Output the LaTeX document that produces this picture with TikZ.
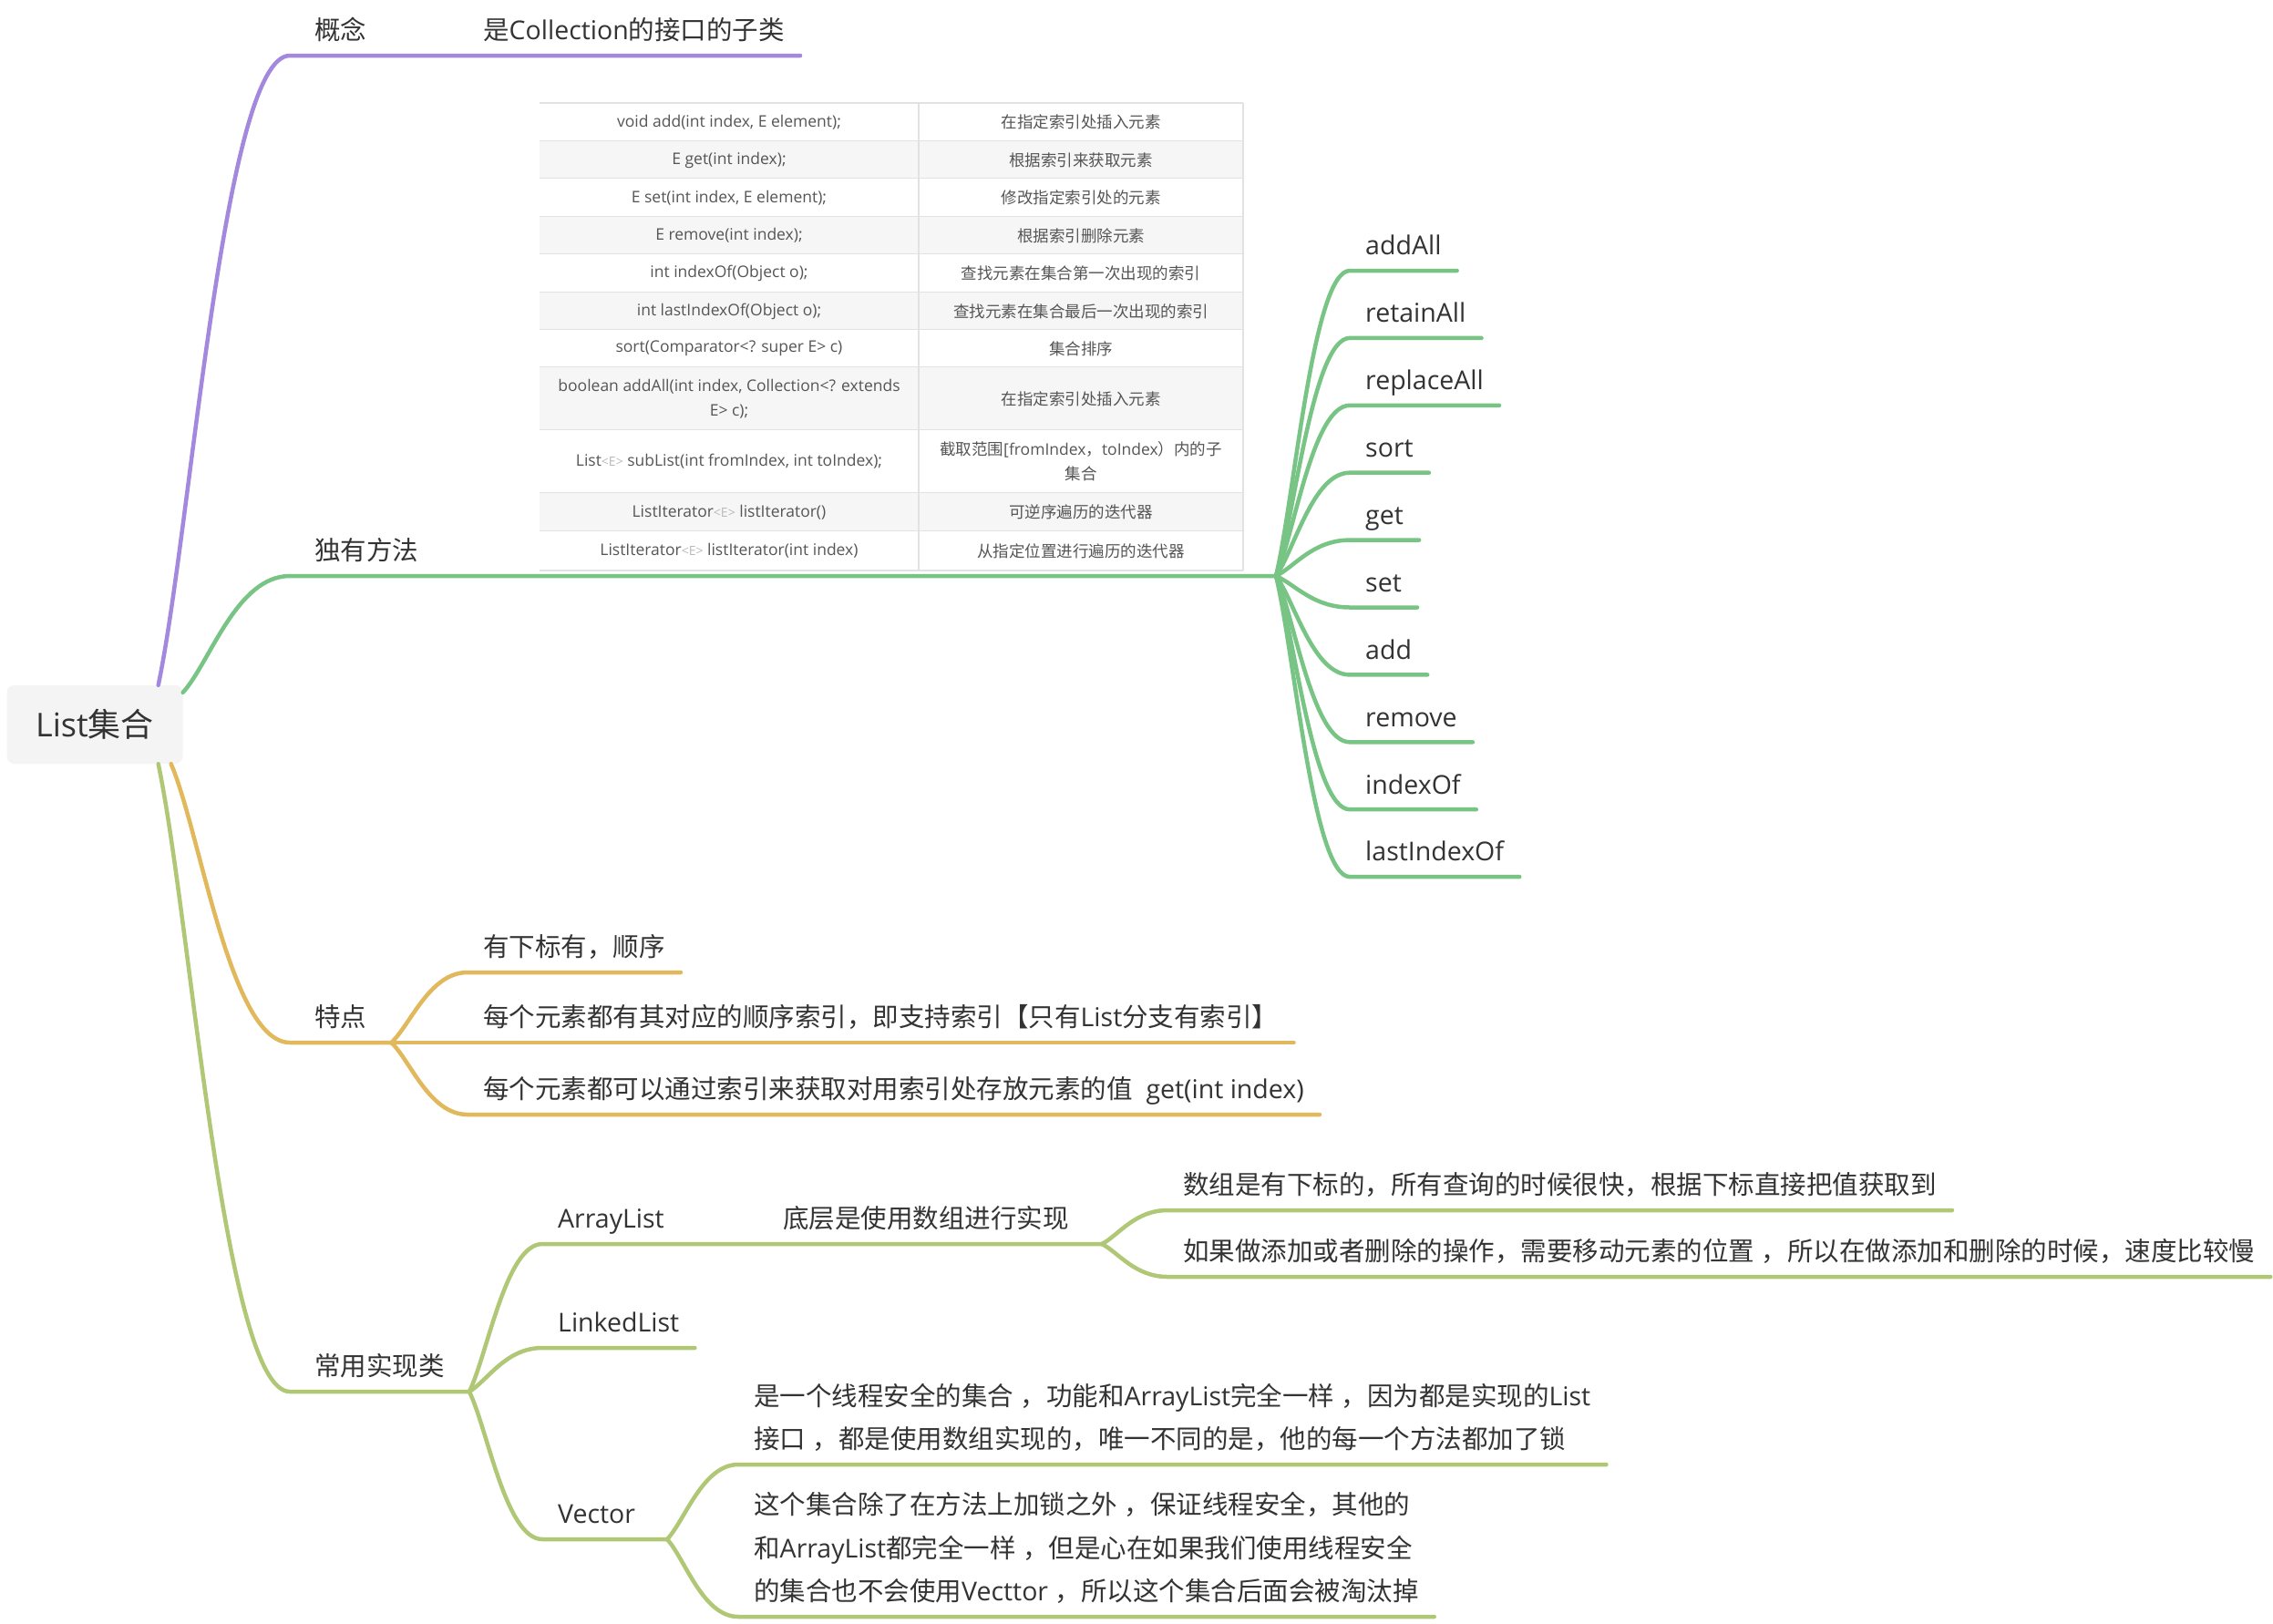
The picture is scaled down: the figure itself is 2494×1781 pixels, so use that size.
\documentclass[tikz,border=0pt]{standalone}
\usepackage{fontspec}
\setmainfont{Open Sans}
\newfontfamily\cjkfont{Noto Sans CJK SC}
\usetikzlibrary{calc}

% Chinese characters switch to the CJK font by themselves
\XeTeXinterchartokenstate=1
\newXeTeXintercharclass\cjkclass
\newcount\cjkcode
\newcommand{\cjkrange}[2]{%
  \cjkcode=#1\relax
  \loop
    \XeTeXcharclass\cjkcode=\cjkclass
  \ifnum\cjkcode<#2\relax
    \advance\cjkcode by 1
  \repeat}
\cjkrange{"3000}{"303F}
\cjkrange{"4E00}{"9FFF}
\cjkrange{"FF00}{"FFEF}
\XeTeXinterchartoks 0 \cjkclass = {\cjkfont}
\XeTeXinterchartoks 4095 \cjkclass = {\cjkfont}
\XeTeXinterchartoks \cjkclass 0 = {\rmfamily}
\XeTeXinterchartoks \cjkclass 4095 = {\rmfamily}

\definecolor{purplebr}{RGB}{164,136,222}
\definecolor{greenbr}{RGB}{120,196,132}
\definecolor{orangebr}{RGB}{225,184,92}
\definecolor{olivebr}{RGB}{176,200,118}
\definecolor{inkgray}{RGB}{51,51,51}
\definecolor{rootfill}{RGB}{244,244,244}
\definecolor{tblgray}{RGB}{246,246,246}
\definecolor{tblline}{RGB}{226,226,226}
\definecolor{tbltext}{RGB}{85,85,85}
\definecolor{tbllight}{RGB}{185,185,185}

\newcommand{\typearg}{{\color{tbllight}\fontsize{14}{14}\selectfont<E>}}

\begin{document}
\begin{tikzpicture}[x=1pt, y=-1pt,
  curvy/.style={to path={.. controls ($(\tikztostart)!0.25!(\tikztotarget)$)
      and ($(\tikztostart |- \tikztotarget)!0.5!(\tikztotarget)$) .. (\tikztotarget) \tikztonodes}},
  branch/.style={draw=#1, line width=4.5pt, line cap=round, line join=round},
  topic/.style={anchor=south west, text depth=0pt, inner xsep=27pt, inner ysep=17pt,
    text=inkgray, font=\fontsize{28.5}{34}\selectfont},
  leaf/.style={topic, inner xsep=17pt},
  note/.style={leaf, font=\fontsize{28.5}{47.5}\selectfont},
  root/.style={fill=rootfill, rounded corners=8pt, minimum width=193pt, minimum height=86pt,
    inner sep=0pt, text=inkgray, font=\fontsize{36}{40}\selectfont},
  cell/.style={text=tbltext, align=center, inner sep=0pt, font=\fontsize{17.5}{27}\selectfont}]

  \useasboundingbox[fill=white] (0,0) rectangle (2494,1781);

  % --- centre ---
  \node[root] (root) at (104,795) {List集合};
  \coordinate (rp) at ($(root.north east)+(-27,0)$);
  \coordinate (rg) at ($(root.north east)+(0,8)$);
  \coordinate (ro) at ($(root.south east)+(-13,0)$);
  \coordinate (rl) at ($(root.south east)+(-27,0)$);

  % --- 概念 ---
  \node[topic] (concept) at (318,61) {概念};
  \node[leaf] (conceptdef) at (513,61) {是Collection的接口的子类};
  \draw[branch=purplebr] (rp) to[curvy] (concept.south west) -- (conceptdef.south east);

  % --- 独有方法 ---
  \node[topic] (own) at (318,632) {独有方法};
  \coordinate (ownhub) at (1400,632);
  \draw[branch=greenbr] (rg) to[curvy] (own.south west) -- (ownhub);

  % table of the methods
  \foreach \ytop/\ybot/\colfill/\mtd/\desc [count=\r] in {
      113/155/white/{void add(int index, E element);}/{在指定索引处插入元素},
      155/196/tblgray/{E get(int index);}/{根据索引来获取元素},
      196/238/white/{E set(int index, E element);}/{修改指定索引处的元素},
      238/279/tblgray/{E remove(int index);}/{根据索引删除元素},
      279/321/white/{int indexOf(Object o);}/{查找元素在集合第一次出现的索引},
      321/362/tblgray/{int lastIndexOf(Object o);}/{查找元素在集合最后一次出现的索引},
      362/403/white/{sort(Comparator<? super E> c)}/{集合排序},
      403/472/tblgray/{boolean addAll(int index, Collection<? extends\\E> c);}/{在指定索引处插入元素},
      472/541/white/{List\typearg{} subList(int fromIndex, int toIndex);}/{截取范围[fromIndex，toIndex）内的子\\集合},
      541/583/tblgray/{ListIterator\typearg{} listIterator()}/{可逆序遍历的迭代器},
      583/626/white/{ListIterator\typearg{} listIterator(int index)}/{从指定位置进行遍历的迭代器}}{
    \fill[\colfill] (592,\ytop) rectangle (1364,\ybot);
    \draw[tblline, line width=1.5pt] (592,\ybot) -- (1364,\ybot);
    \node[cell] (mtd\r) at (800,{(\ytop+\ybot)/2}) {\mtd};
    \node[cell] (desc\r) at (1186,{(\ytop+\ybot)/2}) {\desc};
  }
  \draw[tblline, line width=1.5pt] (592,113) -- (1364,113)
    (1008,113) -- (1008,626) (1364,113) -- (1364,626);

  % methods in the map
  \foreach \word [count=\i from 0] in {addAll, retainAll, replaceAll, sort, get, set, add, remove, indexOf, lastIndexOf}{
    \node[leaf] (own\i) at (1481,{297+73.9*\i}) {\word};
    \draw[branch=greenbr] (ownhub) to[curvy] (own\i.south west) -- (own\i.south east);
  }

  % --- 特点 ---
  \node[topic] (feat) at (318,1144) {特点};
  \draw[branch=orangebr] (ro) to[curvy] (feat.south west) -- (feat.south east);
  \node[leaf] (feat1) at (513,1067) {有下标有，顺序};
  \node[leaf] (feat2) at (513,1144) {每个元素都有其对应的顺序索引，即支持索引【只有List分支有索引】};
  \node[leaf] (feat3) at (513,1223) {每个元素都可以通过索引来获取对用索引处存放元素的值~~get(int index)};
  \foreach \n in {feat1,feat2,feat3}
    \draw[branch=orangebr] (feat.south east) to[curvy] (\n.south west) -- (\n.south east);

  % --- 常用实现类 ---
  \node[topic] (impl) at (318,1527) {常用实现类};
  \draw[branch=olivebr] (rl) to[curvy] (impl.south west) -- (impl.south east);
  \node[leaf] (alist) at (595,1365) {ArrayList};
  \node[leaf] (alistdef) at (842,1365) {底层是使用数组进行实现};
  \coordinate (alisthub) at (1209,1365);
  \node[leaf] (llist) at (595,1479) {LinkedList};
  \node[leaf] (vec) at (595,1689) {Vector};
  \coordinate (vechub) at (732,1689);
  \draw[branch=olivebr] (impl.south east) to[curvy] (alist.south west) -- (alisthub);
  \draw[branch=olivebr] (impl.south east) to[curvy] (llist.south west) -- (llist.south east);
  \draw[branch=olivebr] (impl.south east) to[curvy] (vec.south west) -- (vechub);

  % ArrayList details
  \node[leaf] (alist1) at (1281,1328) {数组是有下标的，所有查询的时候很快，根据下标直接把值获取到};
  \node[leaf] (alist2) at (1281,1401) {如果做添加或者删除的操作，需要移动元素的位置 ，所以在做添加和删除的时候，速度比较慢};
  \foreach \n in {alist1,alist2}
    \draw[branch=olivebr] (alisthub) to[curvy] (\n.south west) -- (\n.south east);

  % Vector details
  \node[note] (vec1) at (810,1607) {\vbox{%
    \hbox{是一个线程安全的集合 ，功能和ArrayList完全一样 ，因为都是实现的List}%
    \hbox{接口 ，都是使用数组实现的，唯一不同的是，他的每一个方法都加了锁}}};
  \node[note] (vec2) at (810,1774) {\vbox{%
    \hbox{这个集合除了在方法上加锁之外 ，保证线程安全，其他的}%
    \hbox{和ArrayList都完全一样 ，但是心在如果我们使用线程安全}%
    \hbox{的集合也不会使用Vecttor ，所以这个集合后面会被淘汰掉}}};
  \foreach \n in {vec1,vec2}
    \draw[branch=olivebr] (vechub) to[curvy] (\n.south west) -- (\n.south east);

\end{tikzpicture}
\end{document}
